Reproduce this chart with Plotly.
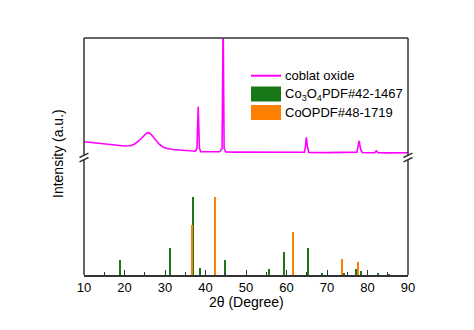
import plotly.graph_objects as go

# Measured XRD pattern of the cobalt oxide sample
two_theta = [10.0, 12.0, 14.0, 16.0, 18.0, 20.0, 21.5, 22.5, 23.5, 24.5, 25.5, 26.0,
             26.5, 27.5, 28.5, 29.5, 30.5, 32.0, 34.0, 36.0, 37.5, 37.9, 38.2, 38.5,
             38.8, 40.0, 42.0, 43.5, 44.1, 44.35, 44.6, 45.0, 47.0, 50.0, 55.0, 60.0,
             64.4, 64.65, 64.9, 65.2, 65.5, 70.0, 75.0, 77.4, 77.7, 77.95, 78.3, 78.7,
             80.0, 81.8, 82.2, 82.6, 85.0, 90.0]
intensity = [15.8, 15.0, 14.2, 13.3, 12.3, 11.5, 11.8, 13.5, 16.5, 20.5, 24.5, 24.8,
             23.5, 18.5, 13.5, 10.5, 9.0, 8.0, 7.3, 6.8, 6.3, 9.0, 50.8, 9.5,
             5.8, 5.7, 5.6, 5.7, 9.0, 140.0, 9.0, 5.5, 5.4, 5.3, 5.1, 5.0,
             5.2, 10.0, 20.2, 10.0, 5.1, 4.9, 4.9, 5.4, 12.0, 16.5, 8.0, 5.0,
             4.8, 4.9, 6.5, 4.8, 4.6, 4.7]

# Standard reference lines (relative intensity, %)
co3o4_pos = [19.0, 31.3, 36.85, 38.6, 44.8, 55.7, 59.4, 65.2, 68.7, 74.2, 77.2, 78.4, 82.7, 85.4]
co3o4_int = [20, 35, 100, 10, 20, 8.5, 30, 35, 3, 3, 8, 5.5, 3, 2]
coo_pos = [36.6, 42.4, 61.5, 73.7, 77.6]
coo_int = [65, 100, 55.5, 21, 17]

x_ticks = [10, 20, 30, 40, 50, 60, 70, 80, 90]

MAGENTA = "#ff00ff"
GREEN = "#187818"
ORANGE = "#ff8000"
AX = "#333333"
FONT = "Liberation Sans, Arial, sans-serif"

W, H = 474, 330
L, R, T, B = 84, 66, 38, 55
PW, PH = W - L - R, H - T - B
BREAK = (275 - 157.5) / PH  # paper y of the axis break


def px(x):
    return (x - L) / PW


def py(y):
    return (H - B - y) / PH


fig = go.Figure()
fig.add_trace(go.Bar(x=co3o4_pos, y=co3o4_int, width=0.5, marker_color=GREEN,
                     marker_line_width=0, xaxis="x", yaxis="y", showlegend=False))
fig.add_trace(go.Bar(x=coo_pos, y=coo_int, width=0.5, marker_color=ORANGE,
                     marker_line_width=0, xaxis="x", yaxis="y", showlegend=False))
fig.add_trace(go.Scatter(x=two_theta, y=intensity, mode="lines",
                         line=dict(color=MAGENTA, width=1.6),
                         xaxis="x", yaxis="y2", showlegend=False))

shapes = []
line = dict(color=AX, width=1.5)
# frame: top edge and the two vertical edges split at the break
shapes.append(dict(type="line", xref="paper", yref="paper", x0=0, x1=1, y0=1, y1=1, line=line))
gap = 2.2 / PH
for xs in (0, 1):
    shapes.append(dict(type="line", xref="paper", yref="paper", x0=xs, x1=xs,
                       y0=0, y1=BREAK - gap, line=line))
    shapes.append(dict(type="line", xref="paper", yref="paper", x0=xs, x1=xs,
                       y0=BREAK + gap, y1=1, line=line))
    for dy in (-2.2, 2.2):
        shapes.append(dict(type="line", xref="paper", yref="paper",
                           xsizemode="pixel", ysizemode="pixel",
                           xanchor=xs, yanchor=BREAK,
                           x0=-4.5, x1=4.5, y0=dy - 2.2, y1=dy + 2.2, line=line))

# legend keys
shapes.append(dict(type="line", xref="paper", yref="paper", x0=px(251), x1=px(281),
                   y0=py(75.7), y1=py(75.7), line=dict(color=MAGENTA, width=2)))
shapes.append(dict(type="rect", xref="paper", yref="paper", x0=px(251), x1=px(281),
                   y0=py(101.5), y1=py(86.5), fillcolor=GREEN, line=dict(width=0)))
shapes.append(dict(type="rect", xref="paper", yref="paper", x0=px(251), x1=px(281),
                   y0=py(120), y1=py(105), fillcolor=ORANGE, line=dict(width=0)))

txt = dict(family=FONT, size=13, color="black")
title_txt = dict(family=FONT, size=14, color="black")
annotations = [
    dict(text="coblat oxide", x=px(283), y=py(75.7), xref="paper", yref="paper",
         xanchor="left", yanchor="middle", showarrow=False, font=txt),
    dict(text="Co<sub>3</sub>O<sub>4</sub>PDF#42-1467", x=px(283), y=py(94), xref="paper",
         yref="paper", xanchor="left", yanchor="middle", showarrow=False, font=txt),
    dict(text="CoOPDF#48-1719", x=px(283), y=py(112.7), xref="paper", yref="paper",
         xanchor="left", yanchor="middle", showarrow=False, font=txt),
    dict(text="Intensity (a.u.)", x=px(58), y=py(154), xref="paper", yref="paper",
         textangle=-90, xanchor="center", yanchor="middle", showarrow=False, font=title_txt),
    dict(text="2θ (Degree)", x=0.5, y=py(302), xref="paper", yref="paper",
         xanchor="center", yanchor="middle", showarrow=False, font=title_txt),
]

fig.update_layout(
    width=W, height=H,
    margin=dict(l=L, r=R, t=T, b=B),
    paper_bgcolor="white", plot_bgcolor="white",
    barmode="overlay", bargap=0,
    font=txt,
    xaxis=dict(range=[10, 90], tickvals=x_ticks, ticks="inside", ticklen=5,
               tickwidth=1, tickcolor=AX, showline=True, linecolor=AX, linewidth=1.5,
               showgrid=False, zeroline=False, tickfont=txt,
               minor=dict(ticks="inside", ticklen=3, dtick=5, tickcolor=AX, showgrid=False),
               anchor="y"),
    yaxis=dict(domain=[0, BREAK], range=[0, 150.6], visible=False, fixedrange=True),
    yaxis2=dict(domain=[BREAK, 1], range=[0, 119.5], visible=False, anchor="x"),
    shapes=shapes,
    annotations=annotations,
)

fig.write_html("out.html")
